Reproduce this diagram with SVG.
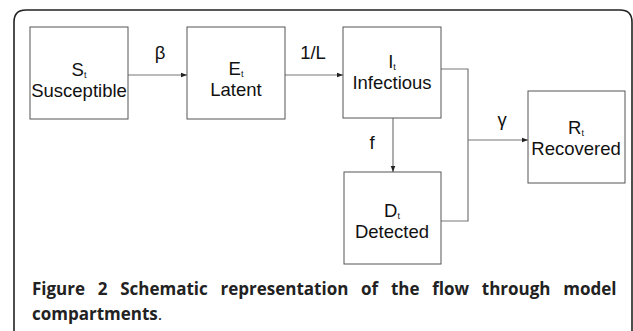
<svg xmlns="http://www.w3.org/2000/svg" width="633" height="331" viewBox="0 0 633 331">
<defs>
<style>
.box{fill:#fff;stroke:#555;stroke-width:1}
.lbl{font-family:"Liberation Sans",Arial,sans-serif;font-size:18.5px;fill:#111;text-anchor:middle}
.sub{font-size:9px}
.edge{fill:none;stroke:#777;stroke-width:1.2}
.cap{font-family:"Open Sans",sans-serif;font-size:17px;font-weight:bold;fill:#222}
</style>
<marker id="ah" viewBox="0 0 8 8" refX="8" refY="4" markerWidth="6" markerHeight="6" orient="auto" markerUnits="userSpaceOnUse">
<path d="M0,1 L8,4 L0,7 Z" fill="#222"/>
</marker>
</defs>
<rect width="633" height="331" fill="#fff"/>
<path d="M14,331 L14,22 Q14,10 26,10 L620,10 Q632,10 632,22 L632,331" fill="none" stroke="#222" stroke-width="1.6"/>
<g id="connectors">
<line class="edge" x1="128" y1="75" x2="187" y2="75" marker-end="url(#ah)"/>
<line class="edge" x1="285" y1="75" x2="343" y2="75" marker-end="url(#ah)"/>
<line class="edge" x1="393" y1="118" x2="393" y2="172" marker-end="url(#ah)"/>
<polyline class="edge" points="441,69 468,69 468,221 441,221"/>
<line class="edge" x1="468" y1="140" x2="528" y2="140" marker-end="url(#ah)"/>
<text class="lbl" x="160" y="59">β</text>
<text class="lbl" x="313" y="59">1/L</text>
<text class="lbl" x="372" y="149">f</text>
<text class="lbl" x="502" y="126">γ</text>
</g>
<g id="S">
<rect class="box" x="30" y="27" width="98" height="92"/>
<text class="lbl" x="79" y="76">S<tspan class="sub" dy="2">t</tspan></text>
<text class="lbl" x="79" y="97">Susceptible</text>
</g>
<g id="E">
<rect class="box" x="187" y="27" width="98" height="92"/>
<text class="lbl" x="236" y="75">E<tspan class="sub" dy="2">t</tspan></text>
<text class="lbl" x="236" y="96">Latent</text>
</g>
<g id="I">
<rect class="box" x="343" y="27" width="98" height="91"/>
<text class="lbl" x="392" y="68">I<tspan class="sub" dy="2">t</tspan></text>
<text class="lbl" x="392" y="89">Infectious</text>
</g>
<g id="D">
<rect class="box" x="344" y="172" width="97" height="92"/>
<text class="lbl" x="392" y="217">D<tspan class="sub" dy="2">t</tspan></text>
<text class="lbl" x="392" y="238">Detected</text>
</g>
<g id="R">
<rect class="box" x="528" y="91" width="97" height="92"/>
<text class="lbl" x="576" y="134">R<tspan class="sub" dy="2">t</tspan></text>
<text class="lbl" x="576" y="155">Recovered</text>
</g>
<text class="cap" x="32" y="295" word-spacing="8.3">Figure 2 Schematic representation of the flow through model</text>
<text class="cap" x="32" y="320">compartments<tspan font-weight="normal">.</tspan></text>
</svg>
